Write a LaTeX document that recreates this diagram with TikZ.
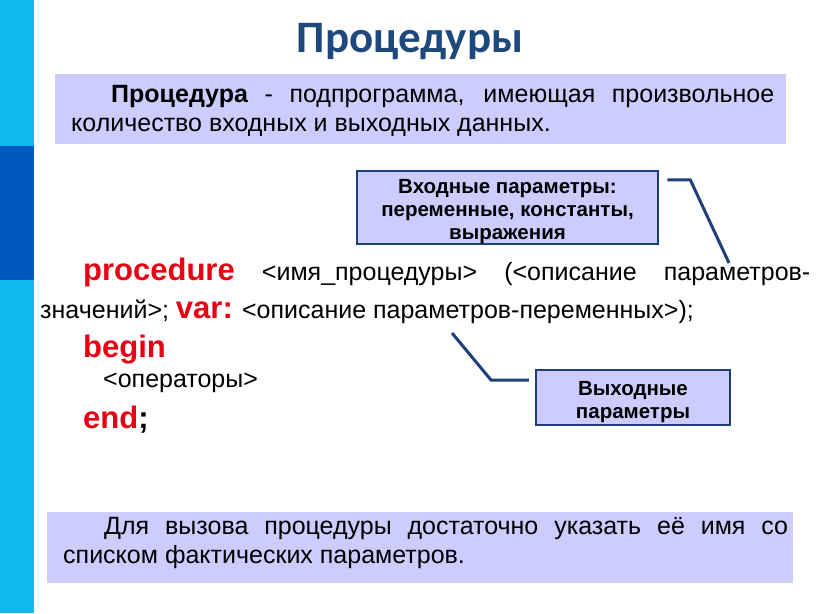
\documentclass[tikz,border=0pt]{standalone}
\usepackage{fontspec}
\setmainfont{Liberation Sans}
\newfontfamily\titlefont{Carlito}
\usetikzlibrary{calc}

\definecolor{stripLight}{RGB}{16,185,236}
\definecolor{stripDark}{RGB}{0,88,190}
\definecolor{titleblue}{HTML}{1F497D}
\definecolor{panelfill}{HTML}{CCCCFF}
\definecolor{framecol}{HTML}{1F3F7A}
\definecolor{kwred}{RGB}{232,0,18}

\newcommand\kwsize{\bfseries\fontsize{31}{36}\selectfont}
\newcommand\kw[1]{{\kwsize\color{kwred}#1}}

\begin{document}
\begin{tikzpicture}[x=1pt, y=-1pt,
  panel/.style={fill=panelfill, inner sep=0pt},
  frame/.style={draw=framecol, line width=2.5pt, fill=panelfill, inner sep=0pt},
  frametext/.style={anchor=north, inner sep=0pt, align=center,
    font=\bfseries\fontsize{20.5}{23}\selectfont},
  link/.style={draw=framecol, line width=3pt},
  code/.style={anchor=base west, inner sep=0pt, font=\fontsize{25}{29}\selectfont},
  body/.style={anchor=north west, inner sep=0pt, align=justify,
    font=\fontsize{25}{29}\selectfont}]
  \useasboundingbox (0,0) rectangle (816,613);

  % Side strip
  \fill[stripLight] (0,0) rectangle (34,146);
  \fill[stripDark] (0,146) rectangle (34,280);
  \fill[stripLight] (0,280) rectangle (34,613);

  % Title
  \node[anchor=base, inner sep=0pt, text=titleblue,
    font=\titlefont\bfseries\fontsize{45}{50}\selectfont] (title) at (410,52) {Процедуры};

  % Definition
  \node[panel, minimum width=731pt, minimum height=70pt] (defbox) at (420.5,109) {};
  \node[body, text width=703pt] (deftext) at (71,85)
    {\hspace*{40pt}\textbf{Процедура} - подпрограмма, имеющая произвольное\linebreak
     количество входных и выходных данных.};

  % Header of the procedure
  \node[code, text width=727pt, align=left] (procline) at (83,280)
    {\kw{procedure}\hfill<имя\_процедуры>\hfill(<описание\hfill параметров-};
  \node[code] (parline) at (40,318)
    {значений>; \kw{var:} <описание параметров-переменных>);};
  \node[code] (beginline) at (83,357) {\kw{begin}};
  \node[code] (opsline) at (103,387) {<операторы>};
  \node[code] (endline) at (83,428) {\kw{end}{\kwsize;}};

  % Parameter boxes
  \node[frame, minimum width=301pt, minimum height=73pt] (inbox) at (507.5,207.5) {};
  \node[frametext] (intext) at (507.5,179.3)
    {Входные параметры:\\переменные, константы,\\выражения};
  \node[frame, minimum width=194pt, minimum height=55pt] (outbox) at (633,397.5) {};
  \node[frametext] (outtext) at (633,381.3) {Выходные\\параметры};

  % Links
  \coordinate (inA) at ($(inbox.north east)+(8,10)$);
  \coordinate (inB) at ($(inA)+(23,0)$);
  \coordinate (inC) at (729,263);
  \draw[link] (inA) -- (inB) -- (inC);
  \coordinate (outA) at (452,333);
  \coordinate (outB) at (491,380);
  \coordinate (outC) at ($(outbox.west)+(-6,-17.5)$);
  \draw[link] (outA) -- (outB) -- (outC);

  % Call
  \node[panel, minimum width=746pt, minimum height=71pt] (callbox) at (420,547.5) {};
  \node[body, text width=725pt] (calltext) at (63,517)
    {\hspace*{41pt}Для вызова процедуры достаточно указать её имя со\linebreak
     списком фактических параметров.};
\end{tikzpicture}
\end{document}
